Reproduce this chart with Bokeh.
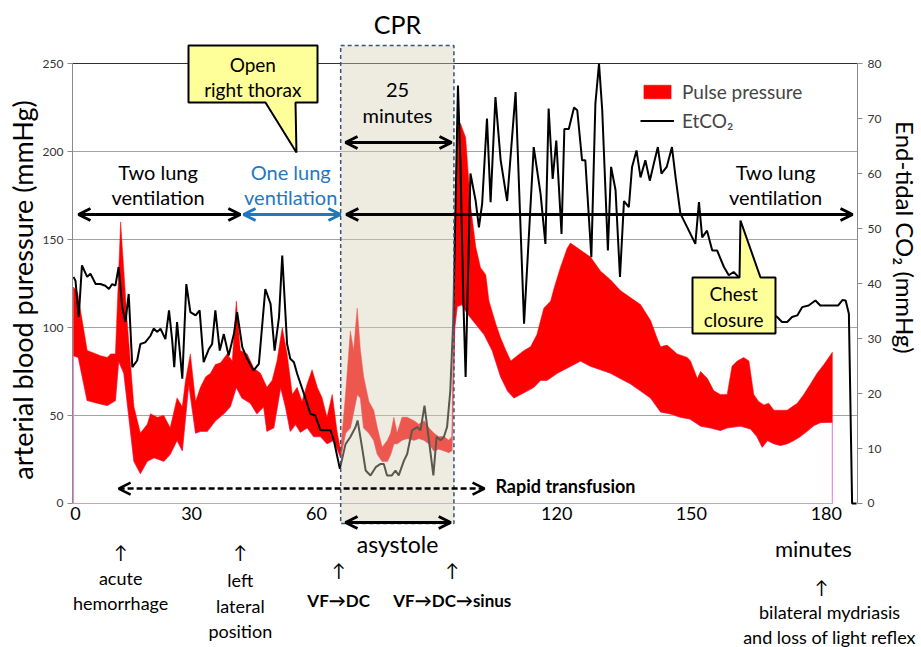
import math
from bokeh.plotting import figure
from bokeh.models import (Range1d, LinearAxis, FixedTicker, Grid, Arrow, OpenHead,
                          Legend, LegendItem)
from bokeh.core.properties import value
from bokeh.embed import file_html
from bokeh.resources import INLINE

# ---------------- data ----------------
# time axis in minutes (chart's own time coordinate)
pp_top_t = [0, 1.0, 3.4, 6.7, 8.4, 9.2, 10.4, 11.7, 13.3, 15.0, 16.6, 18.3, 19.1, 20.8, 22.4,
            24.0, 25.7, 27.0, 27.8, 29.0, 30.3, 31.5, 32.8, 34.0, 35.2, 36.5, 38.1, 39.4, 40.4,
            41.4, 43.1, 44.7, 46.4, 48.0, 49.3, 50.5, 51.8, 53.0, 54.3, 55.5, 56.7, 58.0, 59.2,
            60.5, 61.7, 62.9, 64.2, 65.4, 66.3, 67.5, 68.7, 69.5, 70.4, 71.2, 72.0, 73.3, 74.5,
            75.4, 76.6, 77.9, 78.7, 79.5, 80.3, 81.5, 82.8, 84.5, 85.7, 87.0, 88.2, 89.4, 90.6,
            91.9, 93.1, 93.9, 94.6, 95.2, 96.0, 97.3, 98.5, 99.8, 101.0, 102.3, 103.1, 104.8,
            106.0, 107.3, 108.5, 110.1, 111.8, 113.4, 115.0, 116.7, 118.4, 119.2, 120.8, 122.5,
            123.3, 125.8, 128.3, 130.8, 133.3, 135.7, 138.2, 140.7, 143.2, 144.8, 145.7, 147.3,
            149.8, 152.3, 153.1, 154.8, 155.6, 157.3, 158.9, 160.5, 162.2, 163.4, 164.7, 166.3,
            167.6, 168.8, 170.0, 171.3, 172.5, 173.8, 175.4, 177.1, 178.3, 179.6, 181.2, 182.9,
            184.5, 186.2, 188.3]
pp_top = [123, 120, 87, 84, 83, 85, 85, 160, 104, 55, 40, 45, 51, 49, 50,
          43, 60, 55, 70, 85, 58, 66, 72, 74, 79, 80, 85, 81, 115,
          87, 85, 77, 74, 66, 70, 81, 100, 85, 62, 66, 58, 68, 76,
          66, 60, 49, 62, 41, 30, 62, 98, 87, 111, 87, 72, 58, 53,
          43, 32, 36, 40, 49, 40, 49, 49, 47, 45, 47, 43, 40, 38,
          38, 36, 38, 150, 213, 216, 208, 170, 146, 134, 130, 115, 102,
          94, 87, 81, 84, 87, 89, 96, 111, 115, 122, 134, 145,
          148, 144, 140, 132, 127, 121, 117, 113, 104, 94, 89, 90,
          85, 83, 81, 71, 75, 71, 64, 62, 62, 78, 81, 83,
          81, 62, 58, 56, 57, 53, 53, 53, 55, 57, 62, 68,
          74, 79, 86]

pp_bot_t = [0, 1.2, 3.4, 6.7, 8.4, 10.4, 11.2, 12.5, 15.0, 16.6, 18.3, 20.0, 22.4, 24.0, 25.7,
            27.0, 28.6, 30.3, 31.5, 33.2, 35.2, 37.3, 38.9, 40.4, 41.8, 43.9, 45.5, 47.2, 48.0,
            49.7, 51.4, 52.6, 53.8, 55.1, 56.3, 58.0, 59.6, 61.3, 62.9, 64.6, 66.3, 67.5, 68.7,
            70.4, 71.2, 72.0, 73.3, 74.5, 75.4, 76.6, 77.9, 78.7, 79.5, 80.3, 81.5, 82.8, 84.5,
            85.7, 87.0, 88.2, 89.4, 90.6, 91.9, 93.1, 93.9, 94.6, 95.2, 96.4, 97.7, 99.8, 101.9,
            103.9, 106.0, 107.7, 109.3, 110.9, 112.6, 114.2, 115.9, 117.5, 120.0, 122.5, 125.8,
            128.3, 130.8, 133.3, 135.7, 138.2, 140.7, 143.2, 145.7, 148.0, 150.6, 153.0, 155.6,
            158.0, 160.5, 162.2, 165.5, 168.0, 169.6, 170.9, 172.2, 173.8, 175.4, 177.1, 178.7,
            180.3, 182.0, 183.7, 185.4, 188.3]
pp_bot = [84, 83, 58.5, 56.6, 55.7, 58.5, 81, 74, 24, 17, 24, 26, 24, 28, 36,
          30, 68, 40, 41, 41, 47, 51, 55, 66, 60, 57, 51, 55, 41,
          43, 66, 55, 41, 45, 40.5, 43, 38, 38, 34, 36, 26, 40, 43,
          62, 60, 43, 40, 36, 28, 24, 24, 28, 34, 34, 36, 37, 36,
          37, 36, 34, 30, 31, 30, 29, 30, 100, 112, 113, 108, 102, 96,
          87, 72, 64, 60, 62, 64, 66, 70, 70, 74, 77, 81,
          78, 76, 74, 71, 68, 64, 60, 52, 51, 49, 48, 44,
          43, 41.5, 43, 44, 42.4, 38, 32, 35.8, 34, 33, 34, 35.8,
          38, 41, 44.3, 46, 46.2]

etco2_t = [0, 0.5, 1.3, 2.1, 3.4, 4.2, 5.5, 6.7, 7.9, 8.8, 9.6, 10.4, 11.2, 12.1, 12.9, 13.7,
           14.6, 15.8, 16.6, 17.8, 19.1, 19.9, 20.8, 21.6, 22.8, 23.7, 24.5, 25.0, 25.7, 27.0,
           28.0, 29.0, 30.3, 31.3, 32.3, 33.6, 34.4, 35.2, 36.3, 37.3, 38.5, 39.8, 40.6, 41.9,
           43.1, 44.7, 46.0, 47.6, 48.9, 49.9, 51.0, 51.8, 53.0, 53.8, 54.7, 55.5, 57.2, 58.8,
           60.0, 61.3, 63.8, 64.6, 66.1, 67.5, 68.7, 70.0, 70.5, 71.6, 72.5, 73.7, 75.0, 76.2,
           77.0, 77.8, 79.0, 79.9, 80.7, 82.0, 82.8, 84.0, 85.3, 86.1, 87.1, 88.2, 89.3, 90.1,
           91.1, 91.9, 92.7, 93.5, 94.2, 95.4, 96.0, 96.7, 97.3, 98.5, 99.8, 100.6, 101.4, 102.6,
           103.5, 104.7, 106.0, 107.6, 109.7, 111.8, 114.2, 115.9, 117.1, 117.9, 118.9, 119.8,
           121.1, 121.8, 122.9, 124.2, 125.0, 126.2, 127.0, 128.5, 129.5, 130.4, 131.2, 132.6,
           133.4, 134.5, 135.6, 136.6, 137.8, 138.6, 139.7, 140.7, 141.9, 143.0, 144.0, 145.0,
           145.9, 147.2, 148.5, 149.4, 150.6, 152.3, 154.3, 155.2, 156.0, 157.2, 158.5, 159.7,
           161.4, 162.6, 163.8, 165.0, 166.5, 168.0, 170.0, 172.0, 173.5, 174.6, 175.8, 177.1,
           178.3, 179.6, 180.8, 182.4, 184.1, 185.3, 187.8, 189.7, 190.8, 191.6, 192.4, 193.2,
           194.3]
etco2 = [41.2, 40.5, 33.9, 43.3, 41.2, 41.8, 39.9, 39.9, 39.6, 39.0, 39.9, 39.6, 43.0, 35.7, 33.0, 38.1,
         24.8, 26.0, 29.0, 29.3, 30.5, 31.8, 31.2, 31.8, 29.9, 35.1, 29.6, 24.8, 33.0, 22.7,
         39.9, 34.8, 34.2, 35.1, 25.7, 28.1, 29.0, 35.1, 27.8, 30.8, 26.9, 30.8, 34.8, 28.4,
         26.3, 24.2, 25.4, 39.0, 36.3, 27.8, 33.9, 45.1, 29.0, 26.3, 25.7, 23.6, 19.9, 16.3,
         16.0, 13.3, 13.3, 11.5, 6.3, 10.8, 12.1, 13.9, 15.1, 10.2, 6.0, 5.1, 6.6, 7.2,
         7.2, 5.1, 5.1, 6.0, 5.1, 7.8, 9.0, 13.3, 13.9, 13.3, 17.8, 11.5, 5.1, 12.1,
         11.5, 12.1, 13.9, 20.5, 32.7, 76.0, 62.4, 38.0, 23.0, 60.0, 55.0, 50.2, 54.5, 70.0,
         54.8, 73.9, 62.4, 55.0, 74.8, 32.7, 64.8, 56.3, 47.2, 71.8, 59.0, 66.0,
         49.0, 68.1, 68.1, 72.0, 71.5, 62.4, 62.4, 44.8, 72.7, 80.0, 71.5, 46.0,
         61.2, 57.0, 41.2, 55.0, 53.9, 61.2, 64.2, 59.3, 62.4, 58.7, 61.8, 64.8,
         60.0, 61.2, 64.8, 59.3, 52.7, 50.2, 47.2, 54.8, 48.4, 49.6, 46.0, 46.0,
         43.0, 41.5, 42.1, 41.2, 40.0, 38.5, 37.0, 35.5, 34.5, 33.9, 33.0, 33.0,
         33.9, 34.2, 35.7, 36.0, 36.9, 36.0, 36.0, 36.0, 37.0, 36.9, 34.5, 0.0,
         0.0]

x_tick_pos = [0.5, 29.3, 60.3, 119.9, 153.3, 186.8]
x_tick_labels = ["0", "30", "60", "120", "150", "180"]
y_ticks = [0, 50, 100, 150, 200, 250]
co2_ticks = [0, 10, 20, 30, 40, 50, 60, 70, 80]

cpr_start, cpr_end = 66.3, 94.4
x_lo, x_hi = -0.248, 194.54          # plot-area edges (left and right axes)

FONT = "Lato"

# ---------------- figure ----------------
p = figure(width=921, height=647, output_backend="svg", toolbar_location=None,
           x_range=Range1d(-18.11, 210.42), y_range=Range1d(-81.82, 285.80),
           x_axis_location=None, y_axis_location=None,
           min_border_left=0, min_border_right=0, min_border_top=0, min_border_bottom=0)
p.outline_line_color = None
p.background_fill_color = "white"
p.border_fill_color = "white"
p.grid.visible = False

p.add_layout(Grid(dimension=1, ticker=FixedTicker(ticks=[50, 100, 150, 200]),
                  cross_bounds=(x_lo, x_hi), grid_line_color="#a3a3a3", grid_line_width=1))
p.add_layout(Grid(dimension=1, ticker=FixedTicker(ticks=[250]),
                  cross_bounds=(x_lo, x_hi), grid_line_color="#303030", grid_line_width=1))

ya = LinearAxis(ticker=FixedTicker(ticks=y_ticks), bounds=(0, 250), fixed_location=x_lo)
ya.major_label_text_font = FONT
ya.major_label_text_font_size = "12px"
ya.major_label_text_color = "#333333"
ya.major_label_standoff = 4
ya.major_tick_in = 0
ya.major_tick_out = 5
ya.minor_tick_out = 0
ya.minor_tick_in = 0
ya.axis_line_color = "#8a8a8a"
ya.major_tick_line_color = "#8a8a8a"
p.add_layout(ya, "left")

p.extra_y_ranges = {"co2": Range1d(-81.82 * 0.32, 285.80 * 0.32)}
ra = LinearAxis(y_range_name="co2", ticker=FixedTicker(ticks=co2_ticks), bounds=(0, 80),
                fixed_location=x_hi)
ra.major_label_text_font = FONT
ra.major_label_text_font_size = "12px"
ra.major_label_text_color = "#333333"
ra.major_label_standoff = 5
ra.major_tick_in = 0
ra.major_tick_out = 5
ra.minor_tick_in = 0
ra.minor_tick_out = 0
ra.axis_line_color = "#8a8a8a"
ra.major_tick_line_color = "#8a8a8a"
p.add_layout(ra, "right")

# ---------------- data marks ----------------
base_x = [pp_bot_t[0]] + pp_bot_t + [pp_bot_t[-1]]
base_y = [0] + pp_bot + [0]
p.patch(base_x, base_y, fill_color=None, line_color="#e58ce5", line_width=1.2)

red_x = pp_top_t + pp_bot_t[::-1]
red_y = pp_top + pp_bot[::-1]
r_pp = p.patch(red_x, red_y, fill_color="#ff0000", line_color="#ff0000", line_width=0.5)

r_co2 = p.line(etco2_t, etco2, y_range_name="co2", line_color="black", line_width=2)

# CPR period (semi-transparent box)
p.quad(left=[cpr_start], right=[cpr_end], bottom=[-11.4], top=[260.2],
       fill_color="#d6d0b8", fill_alpha=0.42, line_color="#3a5273",
       line_dash="4 3", line_width=1.5)

# callouts
p.patch([28.54, 60.55, 60.55, 55.09, 55.33, 47.64, 28.54],
        [260.2, 260.2, 227.8, 227.8, 199.4, 227.8, 227.8],
        fill_color="#ffff99", line_color="black", line_width=2)
p.patch([153.6, 165.26, 165.5, 170.47, 174.19, 174.19, 153.6],
        [128.4, 128.4, 160.8, 128.4, 128.4, 96.6, 96.6],
        fill_color="#ffff99", line_color="black", line_width=2)


def txt(xs, ys, texts, size, color="black", style="normal", align="center", angle=0):
    p.text(x=xs, y=ys, text=texts, text_font=value(FONT), text_font_size=size,
           text_color=color, text_font_style=style, text_align=align,
           text_baseline="middle", angle=angle)


txt([80.4], [272.7], ["CPR"], "25px")
txt([80.4, 80.4], [234.7, 220.5], ["25", "minutes"], "20px")
txt([44.5, 44.5], [249.6, 235.4], ["Open", "right thorax"], "19px")
txt([21.0, 21.0], [188.2, 174.3], ["Two lung", "ventilation"], "20px")
txt([53.9, 53.9], [188.2, 174.3], ["One lung", "ventilation"], "20px", color="#1f78c1")
txt([174.2, 174.2], [188.2, 174.3], ["Two lung", "ventilation"], "20px")
txt([163.8, 163.8], [119.3, 104.5], ["Chest", "closure"], "19px")
txt([104.7], [10.2], ["Rapid transfusion"], "18px", style="bold", align="left")
txt([80.4], [-23.2], ["asystole"], "23px")
txt(x_tick_pos, [-5.7] * len(x_tick_pos), x_tick_labels, "18px")
txt([183.6], [-25.6], ["minutes"], "22px")
txt([11.7, 41.4, 65.8, 94.0, 185.6], [-27.8, -27.8, -38.0, -38.0, -47.7],
    ["\u2191"] * 5, "18px")
txt([11.7, 11.7], [-42.6, -56.3], ["acute", "hemorrhage"], "18px")
txt([41.4, 41.4, 41.4], [-43.7, -58.0, -72.2], ["left", "lateral", "position"], "18px")
txt([65.8, 94.0], [-55.1, -55.1], ["VF\u2192DC", "VF\u2192DC\u2192sinus"], "17px", style="bold")
txt([187.6, 187.6], [-61.9, -75.6], ["bilateral mydriasis", "and loss of light reflex"], "18px")
# axis titles
txt([-12.66], [123.3], ["arterial blood puressure  (mmHg)"], "27px", angle=math.pi / 2)
txt([206.45], [147.7], ["End-tidal  CO\u2082  (mmHg)"], "24px", angle=-math.pi / 2)

# arrows
def arrow(x0, x1, y, color="black", width=3, dash="solid", size=12):
    p.add_layout(Arrow(start=OpenHead(size=size, line_width=width, line_color=color),
                       end=OpenHead(size=size, line_width=width, line_color=color),
                       x_start=x0, y_start=y, x_end=x1, y_end=y,
                       line_color=color, line_width=width, line_dash=dash))


arrow(1.24, 41.4, 164.2)
arrow(42.2, 66.25, 164.2, color="#1f78c1")
arrow(67.7, 193.3, 164.2)
arrow(67.5, 93.8, 205.1)
arrow(67.5, 93.6, -10.8)
arrow(11.2, 102.0, 8.5, width=2.5, dash="6 3")

# legend
legend = Legend(items=[LegendItem(label="Pulse pressure", renderers=[r_pp]),
                       LegendItem(label="EtCO\u2082", renderers=[r_co2])],
                location=(640, 515), background_fill_alpha=0, border_line_color=None,
                label_text_font=FONT, label_text_font_size="19px",
                glyph_width=34, glyph_height=17, label_standoff=8, spacing=6,
                padding=0, margin=0)
p.add_layout(legend)

open("out.html", "w").write(file_html(p, INLINE))
